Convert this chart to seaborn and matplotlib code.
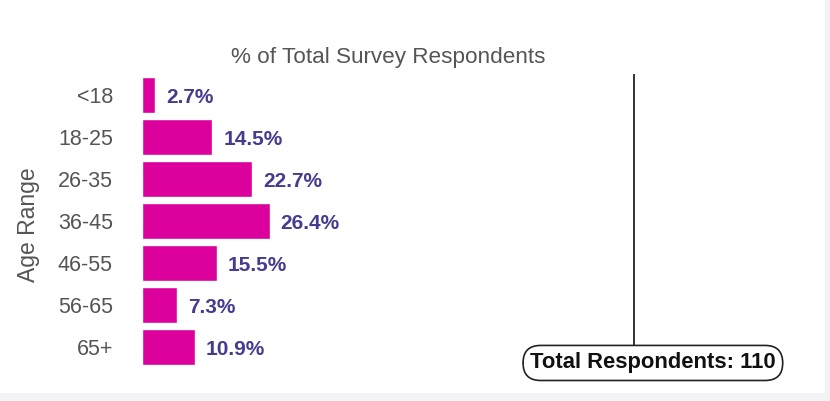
import matplotlib
matplotlib.use("Agg")
import matplotlib.pyplot as plt
from matplotlib.patches import Rectangle
import seaborn as sns
import pandas as pd

# Survey data: share of respondents per age bracket
age_ranges = ["<18", "18-25", "26-35", "36-45", "46-55", "56-65", "65+"]
pct_respondents = [2.7, 14.5, 22.7, 26.4, 15.5, 7.3, 10.9]
total_respondents = 110

title_text = "% of Total Survey Respondents"
y_label = "Age Range"

BAR_COLOR = "#dc009c"
VALUE_COLOR = "#443c8e"
GREY_TEXT = "#555555"
PANEL_GREY = "#f3f3f5"

sns.set_theme(style="white")
plt.rcParams["font.family"] = ["Liberation Sans", "DejaVu Sans"]

df = pd.DataFrame({"age": age_ranges, "pct": pct_respondents})

fig = plt.figure(figsize=(8.3, 4.01), dpi=100)
fig.patch.set_facecolor("white")

# light grey frame strips along the right and bottom edges
fig.patches.append(Rectangle((825 / 830, 0), 5 / 830, 1, transform=fig.transFigure,
                             facecolor=PANEL_GREY, edgecolor="none", zorder=0))
fig.patches.append(Rectangle((0, 0), 1, 8 / 401, transform=fig.transFigure,
                             facecolor=PANEL_GREY, edgecolor="none", zorder=0))

ax = fig.add_axes([142 / 830, 33 / 401, 493 / 830, 294 / 401])
ax.set_facecolor("none")

sns.barplot(data=df, x="pct", y="age", orient="h", color=BAR_COLOR,
            saturation=1, width=0.88, ax=ax)

ax.set_xlim(0, 102)
ax.set_ylim(len(age_ranges) - 0.5, -0.5)

# value labels at the end of each bar
for i, v in enumerate(pct_respondents):
    ax.annotate(f"{v:.1f}%", xy=(v, i), xytext=(8, -1.8), textcoords="offset points",
                ha="left", va="center", fontsize=15, fontweight="bold",
                color=VALUE_COLOR)

# total respondents marker: vertical rule with a rounded label
rule_x = 101.7
ax.plot([rule_x, rule_x], [-0.5, 5.95], color="#333333", lw=1.4,
        solid_capstyle="butt", clip_on=False)
ax.text(105.7, 6.38, f"Total Respondents: {total_respondents}",
        ha="center", va="center", fontsize=15.8, fontweight="bold", color="#111111",
        clip_on=False,
        bbox=dict(boxstyle="round,pad=0.32,rounding_size=0.8", facecolor="white",
                  edgecolor="#222222", linewidth=1.2))

ax.set_title(title_text, fontsize=16.2, color=GREY_TEXT, pad=8)
ax.set_ylabel(y_label, fontsize=16.5, color=GREY_TEXT, va="center")
ax.yaxis.set_label_coords(-0.230, 0.488)
ax.set_xlabel("")
ax.set_xticks([])
ax.tick_params(axis="y", length=0, pad=21, labelsize=15.5, labelcolor=GREY_TEXT)
for s in ax.spines.values():
    s.set_visible(False)

fig.savefig("out.png", dpi=100)
